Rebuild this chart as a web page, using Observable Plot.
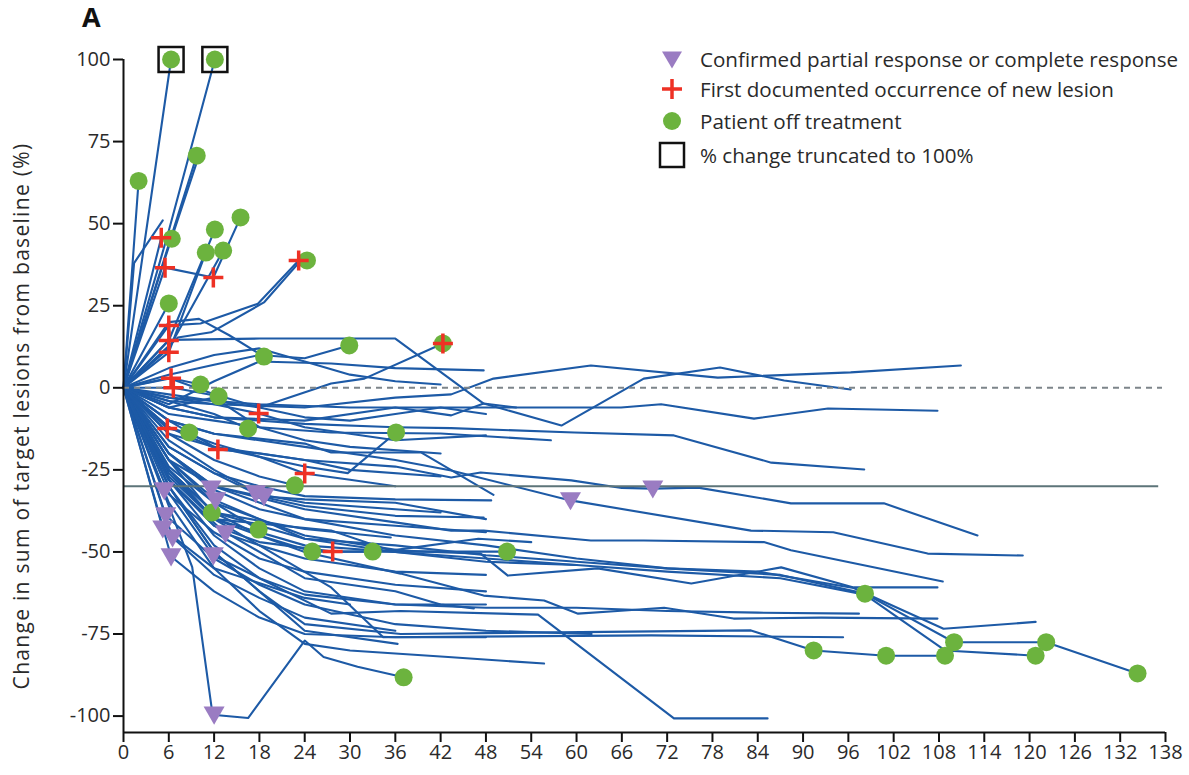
<!DOCTYPE html>
<html>
<head>
<meta charset="utf-8">
<script src="https://cdn.jsdelivr.net/npm/d3@7"></script>
<script src="https://cdn.jsdelivr.net/npm/@observablehq/plot@0.6"></script>
<style>
  html, body { margin: 0; padding: 0; background: #fff; }
  #wrap { position: relative; width: 1189px; height: 775px; font-family: "Open Sans", sans-serif; }
  #panel { position: absolute; left: 82px; top: -2px; font-weight: bold; font-size: 27px; color: #111; }
  #ylab { position: absolute; left: 21px; top: 416px; width: 0; height: 0; }
  #ylab span { position: absolute; transform: translate(-50%, -50%) rotate(-90deg); white-space: nowrap; font-size: 21px; letter-spacing: 1.3px; color: #2a2a2a; }
  .lg { position: absolute; left: 656px; height: 32px; display: flex; align-items: center; font-size: 20.6px; color: #2a2a2a; white-space: nowrap; }
  .lg svg { width: 32px; height: 32px; margin-right: 12px; }
</style>
</head>
<body>
<div id="wrap">
  <div id="chart"></div>
  <div id="panel">A</div>
  <div id="ylab"><span>Change in sum of target lesions from baseline (%)</span></div>
  <div class="lg" style="top:43px"><svg viewBox="-16 -16 32 32"><path d="M-10,-7.5L10,-7.5L0,9.5Z" fill="#9a7cc2"/></svg>Confirmed partial response or complete response</div>
  <div class="lg" style="top:73px"><svg viewBox="-16 -16 32 32"><path d="M-10,0L10,0M0,-10L0,10" stroke="#ee3124" stroke-width="3.5" fill="none"/></svg>First documented occurrence of new lesion</div>
  <div class="lg" style="top:105px"><svg viewBox="-16 -16 32 32"><circle r="9" fill="#6cb33e"/></svg>Patient off treatment</div>
  <div class="lg" style="top:139px"><svg viewBox="-16 -16 32 32"><rect x="-12" y="-12" width="24" height="24" fill="none" stroke="#111" stroke-width="2.5"/></svg>% change truncated to 100%</div>
</div>
<script>
// ---- data (week, % change from baseline) ----
const xTicks = d3.range(0, 139, 6);
const yTicks = [-100, -75, -50, -25, 0, 25, 50, 75, 100];

const trajectories = [
  [[0,0],[6.3,100]],
  [[0,0],[5.9,47],[12.1,100]],
  [[0,0],[2,63]],
  [[0,0],[1.4,38],[5.2,51]],
  [[0,0],[5,45.7],[6.4,45.4]],
  [[0,0],[5.5,40],[9.7,70.7]],
  [[0,0],[6,43],[9.6,68]],
  [[0,0],[6,25.7]],
  [[0,0],[6,14.4],[12.1,48.2]],
  [[0,0],[6,10.8],[10.9,41.2]],
  [[0,0],[5.5,36.6],[11.9,33.6],[15.5,51.9]],
  [[0,0],[6,12],[13.2,41.8]],
  [[0,0],[6,19],[10.2,19.6],[17.8,25.6],[23.2,38.8],[24.3,38.8]],
  [[0,0],[7.2,15.3],[11.6,16.9],[18.6,26],[23.5,38.8]],
  [[0,0],[6,14.6],[18,15],[36,15],[47.7,-4.8],[52,-6]],
  [[0,0],[6,20],[10,21],[14,16],[18.6,9.5]],
  [[0,0],[6,4],[12,7],[18,10],[24,9],[29.9,12.9]],
  [[0,0],[6,-2],[12,-4],[18,-6],[27.5,1.3],[31.9,2.8],[42.3,13.5]],
  [[0,0],[6.3,2.9],[10.2,1]],
  [[0,0],[6.6,0],[12.6,-2.6]],
  [[0,0],[5.8,-12.4],[8.7,-13.6]],
  [[0,0],[6,-4],[12,-8],[16.5,-12.4]],
  [[0,0],[6,-10],[12,-18],[24,-24],[29.7,-26],[36.1,-13.6]],
  [[0,0],[6,-4],[12,-5],[17.9,-7.8],[24,-12],[30,-14],[36,-16],[48,-14.5]],
  [[0,0],[6,-12],[12.5,-18.8],[18,-20],[24,-22],[30,-25],[42,-27]],
  [[0,0],[6,-14],[12,-22],[18,-27],[22.7,-29.7]],
  [[0,0],[6,-12],[12,-17],[18,-21],[24,-26.1],[30,-28],[36,-30]],
  [[0,0],[6,-22],[11.7,-38]],
  [[0,0],[6,-24],[12,-35],[17.9,-43.2]],
  [[0,0],[6,-25],[12,-38],[18,-45],[25,-49.9],[33,-49.9],[50.8,-49.9]],
  [[0,0],[6,-28],[12,-42],[18,-47],[27.7,-49.9],[33,-49.9]],
  [[0,0],[6,-5],[12,2],[18,8],[27.5,7.4],[36,6],[47.7,5.3]],
  [[0,0],[6,-8],[12,-10],[18,-12],[27.5,-13.6],[42,-13.9],[56.6,-16]],
  [[0,0],[6,-18],[12,-26],[18,-30],[24,-33],[36,-34],[48.7,-34.3]],
  [[0,0],[6,-10],[12,-14],[24,-17],[27.5,-19.7],[39.4,-19.7],[49,-32.6]],
  [[0,0],[6,-20],[12,-30],[24,-36],[36,-39],[47.7,-39.5]],
  [[0,0],[6,-25],[12,-38],[24,-43],[35.4,-45.6]],
  [[0,0],[6,-26],[12,-40],[27.5,-43.5],[35.4,-49.6],[47,-46],[54,-47]],
  [[0,0],[6,6],[12,10],[18,12],[24,8],[30,4],[36,2],[42,1]],
  [[0,0],[6,3],[12,-2],[18,-6],[24,-9],[30,-10],[36,-8],[42,-6],[48,-8]],
  [[0,0],[6,-6],[12,-3],[18,-12],[24,-16],[30,-18],[42,-20]],
  [[0,0],[6,-3],[12,-5],[24,-6],[36,-3],[43.4,-2],[49,2.8],[61.9,6.8],[78.7,3.1],[96.3,4.7],[110.9,6.8]],
  [[0,0],[6,-6],[12,-9],[24,-10],[36,-6],[43.4,-8.4],[47.7,-4.8],[58,-11.5],[68.9,2.8],[79,6.2],[87.5,2.2],[96.3,-0.5]],
  [[0,0],[6,-3],[18,-5],[30,-6],[42,-6],[54,-6],[65.9,-6],[71.2,-5],[83.5,-9.4],[93.3,-6.3],[107.8,-7]],
  [[0,0],[6,-6],[12,-9],[24,-11],[36,-12],[43.4,-12.3],[59.7,-13.6],[72.9,-14.5],[85.8,-22.8],[98.1,-24.9]],
  [[0,0],[6,-14],[12,-18],[24,-22],[36,-24],[43.4,-27.3],[47.3,-25.8],[59.3,-28.2],[66,-30.5],[70.1,-30.7],[76.1,-30.4],[88.4,-35.2],[100.7,-35.2],[113.1,-45]],
  [[0,0],[6,-10],[12,-14],[24,-18],[36,-22],[43.4,-25.2],[59.2,-34.3],[83.1,-43.5],[94,-44],[106.5,-50.5],[119.1,-51.1]],
  [[0,0],[6,-22],[12,-30],[24,-37],[36,-41],[43.4,-43.5],[47.7,-43.5],[61.9,-46.5],[68.9,-46.5],[84.8,-47],[88.4,-49.5],[108.5,-59]],
  [[0,0],[6,-22],[12,-35],[24,-45],[36.7,-49.6],[47.3,-50.5],[50.9,-57.2],[62.8,-55],[75.2,-59.6],[87.1,-54.7],[96.7,-60.8],[107.8,-60.8]],
  [[0,0],[6,-20],[12,-30],[24,-40],[36,-45],[48,-48],[60,-52],[72,-55],[84,-56],[96.7,-61],[108.6,-73.4],[120.8,-71.3]],
  [[0,0],[6,-25],[12,-38],[24,-46],[36,-48],[48,-51],[60,-53],[72,-55],[87,-57],[98.2,-62.7],[110,-77.5],[122.2,-77.5],[134.3,-87]],
  [[0,0],[6,-27],[12,-40],[24,-48],[36,-50],[48,-52],[60,-54],[72,-56],[87,-58],[98.2,-63],[108.8,-80],[120.8,-81.6]],
  [[0,0],[6,-30],[12,-50],[18,-62],[24,-72],[36.7,-75],[83.1,-73.9],[91.4,-80],[101,-81.6],[108.8,-81.6]],
  [[0,0],[6,-25],[12,-40],[24,-50],[36.7,-56.6],[47.7,-63.3],[55.7,-64.8],[60.2,-68.8],[65.9,-67.9],[71.6,-67],[80.8,-70.3],[92.4,-70],[107.8,-70.3]],
  [[0,0],[6,-28],[12,-45],[18,-55],[24,-62],[36,-66],[48,-67],[60,-67],[72,-68],[84,-68.5],[97.4,-68.8]],
  [[0,0],[6,-30],[12,-48],[18,-58],[27.5,-68.8],[36.7,-68],[54.9,-69.1],[72.9,-100.7],[85.3,-100.7]],
  [[0,0],[6,-25],[12,-40],[18,-48],[27.5,-60.8],[34.4,-76],[69.9,-75.4],[95.3,-76]],
  [[0,0],[6,-35],[12,-55],[18,-68],[24,-78],[30,-80],[43,-82],[55.7,-84]],
  [[0,0],[6,-30],[12,-50],[18,-62],[24,-74],[36.3,-78]],
  [[0,0],[6,-28],[12,-42],[24,-58],[36,-62],[42,-66],[46.4,-67.2]],
  [[0,0],[9.1,-54.6],[11.8,-99.6],[16.5,-100.6],[24,-77],[26.5,-82],[31,-85],[37.1,-88.2]],
  [[0,0],[5.4,-31.3],[12,-44],[18,-52],[24,-56],[36,-60],[48,-62]],
  [[0,0],[5.6,-38.9],[12,-52],[18,-60],[24,-66],[36,-72],[48,-74],[62,-75]],
  [[0,0],[6.5,-45.6],[12,-57],[18,-64],[24,-70],[36,-74]],
  [[0,0],[6.3,-51.4],[12,-62],[18,-70],[24,-75],[36,-76],[48,-76]],
  [[0,0],[5.2,-42.9],[12,-55],[24,-64],[30,-66]],
  [[0,0],[6,-20],[11.6,-30.7],[18,-37],[24,-40],[36,-42],[48,-44]],
  [[0,0],[6,-22],[12.2,-34.3],[18,-40],[24,-46],[36,-50],[48,-53],[60,-54]],
  [[0,0],[6,-28],[13.5,-44.4],[18,-48],[24,-52],[36,-56],[48,-57]],
  [[0,0],[6,-32],[11.9,-51.1],[18,-58],[24,-63],[36,-66],[48,-66]],
  [[0,0],[6,-18],[12,-26],[17.5,-32.2],[24,-35],[36,-37],[42,-38]],
  [[0,0],[6,-16],[12,-25],[18.6,-33.1],[24,-34],[36,-35],[48,-40]]
];

const responses = [[5.4,-31.3],[5.6,-38.9],[5.2,-42.9],[6.5,-45.6],[6.3,-51.4],[11.6,-30.7],[12.2,-34.3],[13.5,-44.4],[11.9,-51.1],[17.5,-32.2],[18.6,-33.1],[59.2,-34.3],[70.1,-30.7],[12,-99.6]];
const newLesions = [[5,45.7],[5.5,36.6],[11.9,33.6],[23.2,38.8],[6,19],[6,14.4],[6,10.8],[6.3,2.9],[6.6,0],[5.8,-12.4],[17.9,-7.8],[12.5,-18.8],[24,-26.1],[27.7,-49.9],[42.3,13.5]];
const offTreatment = [[6.3,100],[12.1,100],[2,63],[9.7,70.7],[6.4,45.4],[12.1,48.2],[15.5,51.9],[10.9,41.2],[13.2,41.8],[24.3,38.8],[6,25.7],[18.6,9.5],[29.9,12.9],[42.3,13.5],[10.2,1],[12.6,-2.6],[8.7,-13.6],[16.5,-12.4],[36.1,-13.6],[22.7,-29.7],[11.7,-38],[17.9,-43.2],[25,-49.9],[33,-49.9],[50.8,-49.9],[37.1,-88.2],[98.2,-62.7],[91.4,-80],[101,-81.6],[108.8,-81.6],[110,-77.5],[120.8,-81.6],[122.2,-77.5],[134.3,-87]];
const truncated = [[6.3,100],[12.1,100]];

// ---- table for the line mark ----
const rows = trajectories.flatMap((pts, id) => pts.map(([week, change]) => ({id, week, change})));
const pt = arr => arr.map(([week, change]) => ({week, change}));

const triDown = {draw(ctx, size) { const r = Math.sqrt(size / Math.PI); ctx.moveTo(-r, -0.78 * r); ctx.lineTo(r, -0.78 * r); ctx.lineTo(0, 0.95 * r); ctx.closePath(); }};
const plusSym = {draw(ctx, size) { const r = Math.sqrt(size / Math.PI); ctx.moveTo(-r, 0); ctx.lineTo(r, 0); ctx.moveTo(0, -r); ctx.lineTo(0, r); }};
const squareSym = {draw(ctx, size) { const r = Math.sqrt(size / Math.PI); ctx.rect(-r, -r, 2 * r, 2 * r); }};

const chart = Plot.plot({
  width: 1189,
  height: 775,
  marginLeft: 123,
  marginRight: 24,
  marginTop: 59,
  marginBottom: 43,
  style: {fontFamily: "Open Sans, sans-serif", fontSize: "20px", color: "#2a2a2a", background: "#fff"},
  x: {domain: [0, 138]},
  y: {domain: [-105, 100]},
  marks: [
    Plot.line(rows, {x: "week", y: "change", z: "id", stroke: "#1d5aa6", strokeWidth: 2.1, strokeLinejoin: "round"}),
    Plot.ruleY([0], {x1: 0, x2: 137.6, stroke: "#7d858a", strokeWidth: 2, strokeDasharray: "6,5"}),
    Plot.ruleY([-30], {x1: 0, x2: 137.1, stroke: "#5d7479", strokeWidth: 2}),
    Plot.ruleX([0], {y1: -105, y2: 100, stroke: "#111", strokeWidth: 2}),
    Plot.ruleY([-105], {x1: 0, x2: 138, stroke: "#111", strokeWidth: 2}),
    Plot.axisX({ticks: xTicks, tickFormat: d => String(d), tickSize: 10, tickPadding: 2, strokeWidth: 2, stroke: "#111", fontSize: 20, label: null, style: {letterSpacing: "1.4px"}}),
    Plot.axisY({ticks: yTicks, tickFormat: d => String(d), tickSize: 10, tickPadding: 3, strokeWidth: 2, stroke: "#111", fontSize: 20, label: null, style: {letterSpacing: "1.4px"}}),
    Plot.dot(pt(offTreatment), {x: "week", y: "change", r: 9, fill: "#6cb33e", stroke: "none"}),
    Plot.dot(pt(responses), {x: "week", y: "change", r: 10.5, symbol: triDown, fill: "#9a7cc2", stroke: "none"}),
    Plot.dot(pt(newLesions), {x: "week", y: "change", r: 10, symbol: plusSym, fill: "none", stroke: "#ee3124", strokeWidth: 3.5}),
    Plot.dot(pt(truncated), {x: "week", y: "change", r: 12.5, symbol: squareSym, fill: "none", stroke: "#111", strokeWidth: 2.5})
  ]
});
document.getElementById("chart").appendChild(chart);
</script>
</body>
</html>
